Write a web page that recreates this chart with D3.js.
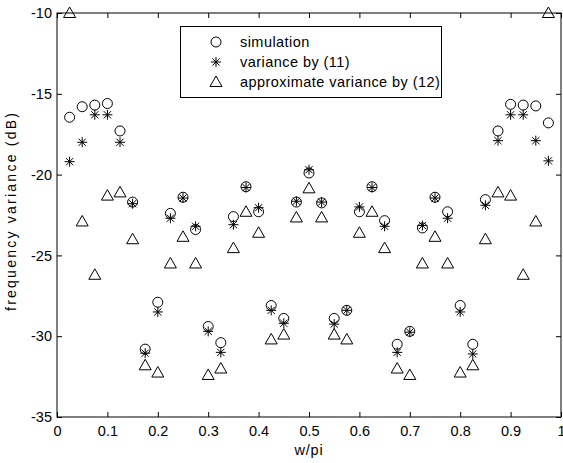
<!DOCTYPE html>
<html>
<head>
<meta charset="utf-8">
<script src="https://cdn.jsdelivr.net/npm/d3@7"></script>
<style>
  body { margin: 0; background: #fff; }
  text { font-family: "Liberation Sans", Arial, sans-serif; }
</style>
</head>
<body>
<script>
// w/pi positions, k/40 for k = 1..39
const freqs = [0.025, 0.05, 0.075, 0.1, 0.125, 0.15, 0.175, 0.2, 0.225, 0.25,
  0.275, 0.3, 0.325, 0.35, 0.375, 0.4, 0.425, 0.45, 0.475, 0.5,
  0.525, 0.55, 0.575, 0.6, 0.625, 0.65, 0.675, 0.7, 0.725, 0.75,
  0.775, 0.8, 0.825, 0.85, 0.875, 0.9, 0.925, 0.95, 0.975];

const simulation = [-16.45, -15.8, -15.7, -15.6, -17.3, -21.7, -30.8, -27.9, -22.4, -21.4,
  -23.4, -29.4, -30.4, -22.6, -20.75, -22.3, -28.1, -28.9, -21.7, -19.9,
  -21.75, -28.9, -28.4, -22.3, -20.75, -22.85, -30.5, -29.7, -23.3, -21.4,
  -22.3, -28.1, -30.5, -21.55, -17.3, -15.65, -15.7, -15.75, -16.8];

const variance11 = [-19.2, -18.0, -16.3, -16.3, -18.0, -21.8, -31.05, -28.5, -22.7, -21.45,
  -23.2, -29.7, -31.0, -23.1, -20.8, -22.05, -28.4, -29.2, -21.65, -19.7,
  -21.7, -29.25, -28.4, -22.0, -20.8, -23.2, -31.0, -29.75, -23.15, -21.45,
  -22.7, -28.5, -31.1, -21.9, -17.9, -16.3, -16.3, -17.9, -19.15];

const approx12 = [-10.0, -22.9, -26.2, -21.3, -21.1, -24.0, -31.8, -32.25, -25.5, -23.85,
  -25.5, -32.4, -32.0, -24.55, -22.3, -23.6, -30.2, -29.9, -22.65, -20.85,
  -22.65, -29.9, -30.2, -23.6, -22.3, -24.55, -32.0, -32.4, -25.5, -23.85,
  -25.5, -32.25, -31.8, -24.0, -21.1, -21.3, -26.2, -22.9, -10.0];

const xTicks = [0, 0.1, 0.2, 0.3, 0.4, 0.5, 0.6, 0.7, 0.8, 0.9, 1];
const yTicks = [-35, -30, -25, -20, -15, -10];
const legendLabels = ["simulation", "variance by (11)", "approximate variance by (12)"];

const W = 563, H = 463;
const m = { left: 57, right: 2, top: 13, bottom: 46 };
const iw = W - m.left - m.right, ih = H - m.top - m.bottom;

const svg = d3.select("body").append("svg")
  .attr("width", W)
  .attr("height", H);

const x = d3.scaleLinear().domain([0, 1]).range([m.left, m.left + iw]);
const y = d3.scaleLinear().domain([-35, -10]).range([m.top + ih, m.top]);

// frame
svg.append("rect")
  .attr("x", m.left).attr("y", m.top)
  .attr("width", iw).attr("height", ih)
  .attr("fill", "none").attr("stroke", "#000").attr("stroke-width", 1);

// axes, ticks pointing inward
const tk = 5;
svg.append("g")
  .attr("transform", "translate(0," + (m.top + ih) + ")")
  .call(d3.axisBottom(x).tickValues(xTicks).tickSize(-tk).tickPadding(9).tickFormat(d3.format("")));
svg.append("g")
  .attr("transform", "translate(" + m.left + ",0)")
  .call(d3.axisLeft(y).tickValues(yTicks).tickSize(-tk).tickPadding(5).tickFormat(d => d));

// matching ticks on top and right
svg.append("g")
  .attr("transform", "translate(0," + m.top + ")")
  .call(d3.axisTop(x).tickValues(xTicks).tickSize(-tk).tickFormat(""));
svg.append("g")
  .attr("transform", "translate(" + (m.left + iw) + ",0)")
  .call(d3.axisRight(y).tickValues(yTicks).tickSize(-tk).tickFormat(""));

svg.selectAll(".domain").remove();
svg.selectAll(".tick line").attr("stroke", "#000");
svg.selectAll(".tick text")
  .attr("fill", "#000")
  .style("font-size", "14.5px")
  .style("font-family", "'Liberation Sans', Arial, sans-serif");

// labels
svg.append("text")
  .attr("x", m.left + iw / 2).attr("y", 455)
  .attr("text-anchor", "middle")
  .style("font-size", "14.5px")
  .style("letter-spacing", "0.8px")
  .text("w/pi");
svg.append("text")
  .attr("transform", "translate(16,212) rotate(-90)")
  .attr("text-anchor", "middle")
  .attr("textLength", 198)
  .attr("lengthAdjust", "spacing")
  .style("font-size", "14px")
  .text("frequency variance (dB)");

// markers
function drawCircle(g, cx, cy) {
  g.append("circle").attr("cx", cx).attr("cy", cy).attr("r", 5)
    .attr("fill", "none").attr("stroke", "#000").attr("stroke-width", 1);
}
function drawStar(g, cx, cy) {
  const s = 5, d = 3.6;
  const p = "M" + (cx - s) + "," + cy + "H" + (cx + s) +
    "M" + cx + "," + (cy - s) + "V" + (cy + s) +
    "M" + (cx - d) + "," + (cy - d) + "L" + (cx + d) + "," + (cy + d) +
    "M" + (cx - d) + "," + (cy + d) + "L" + (cx + d) + "," + (cy - d);
  g.append("path").attr("d", p).attr("fill", "none").attr("stroke", "#000").attr("stroke-width", 1);
}
function drawTri(g, cx, cy) {
  const s = 6;
  const p = "M" + cx + "," + (cy - s) + "L" + (cx + s) + "," + (cy + s * 0.75) +
    "L" + (cx - s) + "," + (cy + s * 0.75) + "Z";
  g.append("path").attr("d", p).attr("fill", "none").attr("stroke", "#000").attr("stroke-width", 1);
}

const marks = svg.append("g");
freqs.forEach((f, i) => {
  drawCircle(marks, x(f), y(simulation[i]));
  drawStar(marks, x(f), y(variance11[i]));
  drawTri(marks, x(f), y(approx12[i]));
});

// legend
const lg = svg.append("g");
lg.append("rect")
  .attr("x", 180.5).attr("y", 26.5).attr("width", 261).attr("height", 71)
  .attr("fill", "#fff").attr("stroke", "#000");
const drawers = [drawCircle, drawStar, drawTri];
legendLabels.forEach((t, i) => {
  const ly = 42 + i * 20;
  drawers[i](lg, 216, ly);
  lg.append("text")
    .attr("x", 240).attr("y", ly + 5)
    .style("font-size", "14.5px")
    .style("letter-spacing", "0.45px")
    .text(t);
});
</script>
</body>
</html>
